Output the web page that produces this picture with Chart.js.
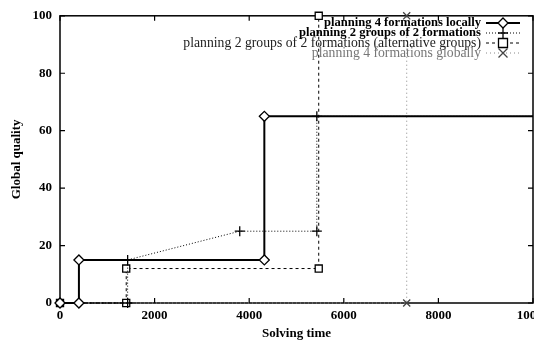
<!DOCTYPE html>
<html>
<head>
<meta charset="utf-8">
<script src="https://cdn.jsdelivr.net/npm/chart.js@4.4.1/dist/chart.umd.min.js"></script>
<style>
  html, body { margin: 0; padding: 0; background: #fff; overflow: hidden; width: 534px; height: 344px; }
  #myChart { position: absolute; left: 0; top: 0; }
</style>
</head>
<body>
<canvas id="myChart" width="580" height="344"></canvas>
<script>
// series values (x = solving time, y = global quality)
const localX = [0, 400, 400, 4320, 4320, 10600];
const localY = [0, 0, 15, 15, 65, 65];

const groupsX = [0, 1430, 1430, 3800, 5430, 5430, 10600];
const groupsY = [0, 0, 15, 25, 25, 65, 65];

const altX = [0, 1400, 1400, 5470, 5470];
const altY = [0, 0, 12, 12, 100];

const globalX = [0, 7330, 7330];
const globalY = [0, 0, 100];

const seriesLabels = [
    'planning 4 formations locally',
    'planning 2 groups of 2 formations',
    'planning 2 groups of 2 formations (alternative groups)',
    'planning 4 formations globally'
];

const xTicks = [0, 2000, 4000, 6000, 8000, 10000];
const yTicks = [0, 20, 40, 60, 80, 100];

const serif = '"Liberation Serif", "DejaVu Serif", serif';
const ctx = document.getElementById('myChart');

function toPoints(xs, ys) {
    return xs.map((x, i) => ({ x: x, y: ys[i] }));
}

const styles = [
    { color: '#000', width: 2, dash: [], marker: 'diamond', markColor: '#000', font: 'bold 12.6px ' + serif, text: '#000' },
    { color: '#000', width: 1, dash: [1, 2], marker: 'plus', markColor: '#000', font: 'bold 12.6px ' + serif, text: '#000' },
    { color: '#000', width: 1, dash: [3, 3], marker: 'square', markColor: '#000', font: '13.7px ' + serif, text: '#222' },
    { color: '#888', width: 1, dash: [1, 3], marker: 'cross', markColor: '#444', font: '13.7px ' + serif, text: '#777' }
];

const pointStyleMap = { diamond: 'rectRot', plus: 'cross', square: 'rect', cross: 'crossRot' };

function drawMarker(c, kind, x, y, color) {
    c.save();
    c.setLineDash([]);
    c.strokeStyle = color;
    c.lineWidth = 1.3;
    c.beginPath();
    if (kind === 'diamond') {
        c.moveTo(x - 5, y); c.lineTo(x, y - 5); c.lineTo(x + 5, y); c.lineTo(x, y + 5); c.closePath();
        c.fillStyle = '#fff'; c.fill();
    } else if (kind === 'square') {
        c.rect(x - 4.5, y - 4.5, 9, 9);
        c.fillStyle = '#fff'; c.fill();
    } else if (kind === 'plus') {
        c.moveTo(x - 5, y); c.lineTo(x + 5, y); c.moveTo(x, y - 5); c.lineTo(x, y + 5);
    } else {
        c.moveTo(x - 4.5, y - 4.5); c.lineTo(x + 4.5, y + 4.5); c.moveTo(x + 4.5, y - 4.5); c.lineTo(x - 4.5, y + 4.5);
    }
    c.stroke();
    c.restore();
}

// gnuplot-like frame with inward ticks
const framePlugin = {
    id: 'frame',
    beforeDatasetsDraw(chart) {
        const c = chart.ctx;
        const a = chart.chartArea;
        const xs = chart.scales.x, ys = chart.scales.y;
        c.save();
        c.strokeStyle = '#000';
        c.lineWidth = 1.5;
        c.strokeRect(a.left, a.top, a.right - a.left, a.bottom - a.top);
        c.lineWidth = 1.2;
        c.beginPath();
        xTicks.forEach(v => {
            const px = xs.getPixelForValue(v);
            c.moveTo(px, a.bottom); c.lineTo(px, a.bottom - 5);
            c.moveTo(px, a.top); c.lineTo(px, a.top + 5);
        });
        yTicks.forEach(v => {
            const py = ys.getPixelForValue(v);
            c.moveTo(a.left, py); c.lineTo(a.left + 5, py);
            c.moveTo(a.right, py); c.lineTo(a.right - 5, py);
        });
        c.stroke();
        c.restore();
    },
    afterDraw(chart) {
        const c = chart.ctx;
        const textRight = 481, sampleL = 486, sampleR = 520, top = 23, step = 10;
        c.save();
        c.textAlign = 'right';
        c.textBaseline = 'middle';
        seriesLabels.forEach((label, i) => {
            const s = styles[i];
            const y = top + i * step;
            c.font = s.font;
            c.fillStyle = s.text;
            c.fillText(label, textRight, y);
            c.strokeStyle = s.color;
            c.lineWidth = s.width;
            c.setLineDash(s.dash);
            c.beginPath();
            c.moveTo(sampleL, y); c.lineTo(sampleR, y);
            c.stroke();
            drawMarker(c, s.marker, (sampleL + sampleR) / 2, y, s.markColor);
        });
        c.restore();
    }
};

const datasets = [
    toPoints(localX, localY),
    toPoints(groupsX, groupsY),
    toPoints(altX, altY),
    toPoints(globalX, globalY)
].map((pts, i) => {
    const s = styles[i];
    return {
        label: seriesLabels[i],
        data: pts,
        showLine: true,
        borderColor: s.color,
        borderWidth: s.width,
        borderDash: s.dash,
        pointStyle: pointStyleMap[s.marker],
        pointRadius: 5,
        pointBorderWidth: 1.3,
        pointBorderColor: s.markColor,
        pointBackgroundColor: '#fff',
        clip: { left: 6, top: 6, right: 0, bottom: 6 }
    };
});

const chart = new Chart(ctx, {
    type: 'scatter',
    data: { datasets: datasets },
    plugins: [framePlugin],
    options: {
        responsive: false,
        animation: false,
        devicePixelRatio: 1,
        layout: { padding: { left: 0, top: 11, right: 47, bottom: 0 } },
        plugins: { legend: { display: false }, tooltip: { enabled: false } },
        scales: {
            x: {
                type: 'linear',
                min: 0,
                max: 10000,
                afterBuildTicks: (scale) => { scale.ticks = xTicks.map(v => ({ value: v })); },
                afterFit: (scale) => { scale.height = 41; },
                grid: { display: false, drawTicks: false },
                border: { display: false },
                ticks: { padding: 5, color: '#000', font: { family: serif, size: 13, weight: 'bold' }, maxRotation: 0, autoSkip: false, callback: (v) => String(v) },
                title: { display: true, text: 'Solving time', color: '#000', font: { family: serif, size: 13, weight: 'bold' }, padding: { top: 0, bottom: 3 } }
            },
            y: {
                type: 'linear',
                min: 0,
                max: 100,
                afterBuildTicks: (scale) => { scale.ticks = yTicks.map(v => ({ value: v })); },
                afterFit: (scale) => { scale.width = 60; },
                grid: { display: false, drawTicks: false },
                border: { display: false },
                ticks: { padding: 8, color: '#000', font: { family: serif, size: 13, weight: 'bold' }, callback: (v) => String(v) },
                title: { display: true, text: 'Global quality', color: '#000', font: { family: serif, size: 13, weight: 'bold' }, padding: { top: 9, bottom: 0 } }
            }
        }
    }
});
</script>
</body>
</html>
